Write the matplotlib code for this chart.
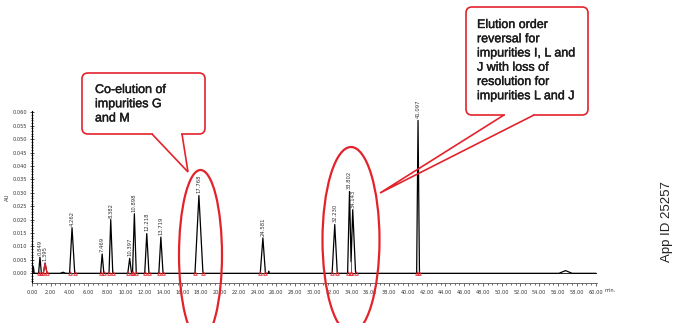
import matplotlib
matplotlib.use("Agg")
import matplotlib.pyplot as plt
import matplotlib.patheffects as pe
from matplotlib.patches import Ellipse, FancyBboxPatch, Polygon, Rectangle
from matplotlib.ticker import MultipleLocator, FormatStrFormatter

# ---- data ----
peak_labels = ["0.849", "1.395", "4.262", "7.469", "8.382", "10.397", "10.898",
               "12.218", "13.719", "17.768", "24.581", "32.230", "33.802",
               "34.143", "41.097"]
peak_rt = [0.849, 1.395, 4.262, 7.469, 8.382, 10.397, 10.898, 12.218, 13.719,
           17.768, 24.581, 32.230, 33.802, 34.143, 41.097]
peak_h = [0.0060, 0.0038, 0.0170, 0.0072, 0.0200, 0.0056, 0.0222, 0.0148,
          0.0135, 0.0290, 0.0132, 0.0182, 0.0305, 0.0237, 0.0570]
peak_start = [0.70, 1.20, 4.00, 7.30, 8.20, 10.20, 10.70, 12.00, 13.50,
              17.35, 24.30, 31.95, 33.60, 33.97, 40.95]
peak_end = [1.00, 1.60, 4.55, 7.65, 8.60, 10.60, 11.10, 12.45, 13.95,
            18.20, 24.85, 32.50, 33.97, 34.45, 41.25]
peak_end_level = [0, 0, 0, 0, 0, 0, 0, 0, 0, 0, 0, 0, 0.0043, 0, 0]
# minor baseline features (time, height, half-width)
minor_t = [0.15, 3.3, 25.2, 56.8]
minor_h = [0.0025, 0.0004, 0.0008, 0.0010]
minor_w = [0.08, 0.3, 0.05, 0.7]
red_peak = "1.395"
valley_drop = 33.97

RED = "#e3232b"

fig = plt.figure(figsize=(6.83, 3.23), dpi=100)
W, H = 683, 323
ax = fig.add_axes([32 / W, 1 - 282.7 / H, (597 - 32) / W, (282.7 - 111) / H])

# build trace vertices from the peak table
events = []
for t, h, w in zip(minor_t, minor_h, minor_w):
    events.append((t - w, [(t - w, 0.0), (t, h), (t + w, 0.0)]))
for i in range(len(peak_rt)):
    s_level = peak_end_level[i - 1] if (i > 0 and peak_start[i] == peak_end[i - 1]) else 0.0
    events.append((peak_start[i], [(peak_start[i], s_level), (peak_rt[i], peak_h[i]),
                                   (peak_end[i], peak_end_level[i])]))
events.sort(key=lambda e: e[0])
xs, ys = [0.0], [0.0]
for _, pts in events:
    for px, py in pts:
        xs.append(px)
        ys.append(py)
xs.append(60.0)
ys.append(0.0)
ax.plot(xs, ys, color="black", lw=0.9, zorder=3)
ax.axhline(0, color="black", lw=0.6, zorder=2)

for i, lab in enumerate(peak_labels):
    if lab == red_peak:
        ax.plot([peak_start[i], peak_rt[i], peak_end[i]], [0, peak_h[i], 0],
                color=RED, lw=0.9, zorder=4)
    ax.text(peak_rt[i], peak_h[i] + 0.0008, lab, rotation=90, ha="center",
            va="bottom", fontsize=3.8, color="#333333", zorder=5)
    ax.plot([peak_start[i]], [0], marker="^", ms=2.6, mfc="none", mec=RED,
            mew=0.6, zorder=5)
    ax.plot([peak_end[i]], [0], marker="^", ms=2.6, mfc="none", mec=RED,
            mew=0.6, zorder=5)
ax.plot([valley_drop, valley_drop], [0, 0.0043], color=RED, lw=0.7, zorder=4)

ax.set_xlim(0, 60.15)
ax.set_ylim(-0.0035, 0.0605)
for sp in ["top", "right"]:
    ax.spines[sp].set_visible(False)
ax.spines["left"].set_linewidth(0.8)
ax.spines["bottom"].set_linewidth(0.6)
ax.spines["bottom"].set_color("#555555")
ax.xaxis.set_major_locator(MultipleLocator(2))
ax.xaxis.set_minor_locator(MultipleLocator(0.5))
ax.xaxis.set_major_formatter(FormatStrFormatter("%.2f"))
ax.yaxis.set_major_locator(MultipleLocator(0.005))
ax.yaxis.set_minor_locator(MultipleLocator(0.001))
ax.yaxis.set_major_formatter(FormatStrFormatter("%.3f"))
ax.tick_params(axis="x", which="major", direction="out", length=2.5, width=0.5,
               labelsize=3.6, pad=3, colors="#333333")
ax.tick_params(axis="x", which="minor", direction="out", length=1.5, width=0.4)
ax.tick_params(axis="y", which="major", direction="inout", length=3, width=0.6,
               labelsize=3.6, pad=2, colors="#333333")
ax.tick_params(axis="y", which="minor", direction="inout", length=2, width=0.5)
ax.set_ylabel("AU", fontsize=3.8, labelpad=2, color="#333333")
fig.text(610 / W, 1 - 291 / H, "min.", fontsize=3.6, va="center", ha="center",
         color="#333333")

# ---- overlay in pixel coordinates for callouts ----
ov = fig.add_axes([0, 0, 1, 1], facecolor="none")
ov.set_xlim(0, W)
ov.set_ylim(H, 0)
ov.axis("off")

ov.add_patch(Ellipse((200.5, 255), 43, 170, fill=False, ec=RED, lw=1.6, zorder=10))
ov.add_patch(Ellipse((351, 240), 57, 186, fill=False, ec=RED, lw=1.6, zorder=10))

TXT = "#1c1c1c"

def callout(x0, y0, x1, y1, bl, br, tip, text, tx, ty):
    ov.add_patch(FancyBboxPatch((x0, y0), x1 - x0, y1 - y0,
                                boxstyle="round,pad=0,rounding_size=6",
                                fc="white", ec=RED, lw=1.2, zorder=11))
    ov.add_patch(Rectangle((bl + 0.8, y1 - 2), br - bl - 1.6, 4,
                           fc="white", ec="none", zorder=12))
    ov.add_patch(Polygon([(bl, y1), tip, (br, y1)], closed=False,
                         fill=False, ec=RED, lw=1.2, zorder=13))
    ov.text(tx, ty, text, fontsize=9, fontfamily="Liberation Sans",
            color=TXT, va="top", ha="left", linespacing=1.25, zorder=14,
            path_effects=[pe.withStroke(linewidth=0.3, foreground=TXT)])

callout(82, 73, 205, 134, 152, 182, (188, 172),
        "Co-elution of\nimpurities G\nand M", 95, 84)
callout(466, 7, 588, 115, 504, 534, (380, 193),
        "Elution order\nreversal for\nimpurities I, L and\nJ with loss of\nresolution for\nimpurities L and J",
        477, 19)

fig.text(667 / W, 1 - 222 / H, "App ID 25257", rotation=90, fontsize=9.5,
         fontfamily="Liberation Sans", ha="center", va="center", color="#222222")

fig.savefig("out.png", dpi=100)
